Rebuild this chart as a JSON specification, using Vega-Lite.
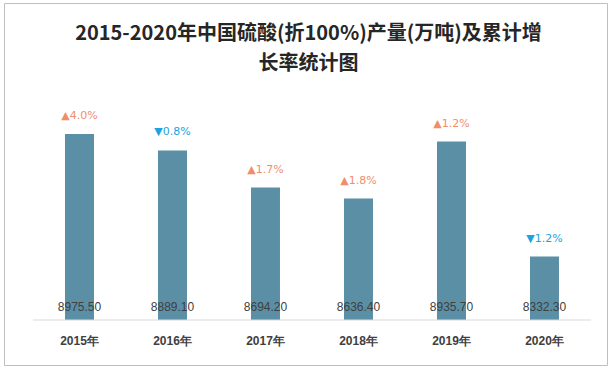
{
  "$schema": "https://vega.github.io/schema/vega-lite/v6.json",
  "width": 603,
  "height": 362,
  "autosize": {"type": "none"},
  "padding": {"left": 4, "top": 3, "right": 7, "bottom": 5},
  "background": "white",
  "title": {
    "text": ["2015-2020年中国硫酸(折100%)产量(万吨)及累计增", "长率统计图"],
    "font": "Noto Sans CJK SC",
    "fontSize": 20,
    "fontWeight": "bold",
    "color": "#262626",
    "lineHeight": 30,
    "anchor": "middle",
    "offset": 0,
    "dy": 71,
    "dx": 3
  },
  "config": {"view": {"stroke": "#BFBFBF", "strokeWidth": 1}},
  "data": {
    "values": [
      {"year": "2015年", "output": 8975.5, "growth": "▲4.0%", "dir": "up"},
      {"year": "2016年", "output": 8889.1, "growth": "▼0.8%", "dir": "down"},
      {"year": "2017年", "output": 8694.2, "growth": "▲1.7%", "dir": "up"},
      {"year": "2018年", "output": 8636.4, "growth": "▲1.8%", "dir": "up"},
      {"year": "2019年", "output": 8935.7, "growth": "▲1.2%", "dir": "up"},
      {"year": "2020年", "output": 8332.3, "growth": "▼1.2%", "dir": "down"}
    ]
  },
  "encoding": {
    "x": {
      "field": "year",
      "type": "nominal",
      "sort": null,
      "scale": {"paddingInner": 0, "paddingOuter": 0.242, "align": 0.644},
      "axis": {
        "title": null,
        "domain": false,
        "ticks": false,
        "offset": -45,
        "labelPadding": 15,
        "labelAngle": 0,
        "labelFont": "Liberation Sans",
        "labelFontSize": 12,
        "labelFontWeight": "bold",
        "labelColor": "#404040"
      }
    }
  },
  "layer": [
    {
      "mark": {"type": "bar", "size": 29, "color": "#5B8FA6"},
      "encoding": {
        "y": {"field": "output", "type": "quantitative", "scale": {"domain": [7764, 9662], "nice": false, "zero": false}, "axis": null},
        "y2": {"datum": 8000}
      }
    },
    {
      "mark": {"type": "tick", "size": 93, "thickness": 1, "color": "#D9D9D9", "opacity": 1},
      "encoding": {"y": {"datum": 8000, "type": "quantitative"}}
    },
    {
      "mark": {"type": "text", "font": "Liberation Sans", "fontSize": 12, "color": "#404040", "baseline": "middle", "dy": -13},
      "encoding": {
        "y": {"datum": 8000, "type": "quantitative"},
        "text": {"field": "output", "type": "quantitative", "format": ".2f"}
      }
    },
    {
      "mark": {"type": "text", "font": "DejaVu Sans", "fontSize": 11, "baseline": "middle", "dy": -18},
      "encoding": {
        "y": {"field": "output", "type": "quantitative"},
        "text": {"field": "growth"},
        "color": {"field": "dir", "type": "nominal", "scale": {"domain": ["up", "down"], "range": ["#F08E6B", "#1BA3E0"]}, "legend": null}
      }
    }
  ]
}
